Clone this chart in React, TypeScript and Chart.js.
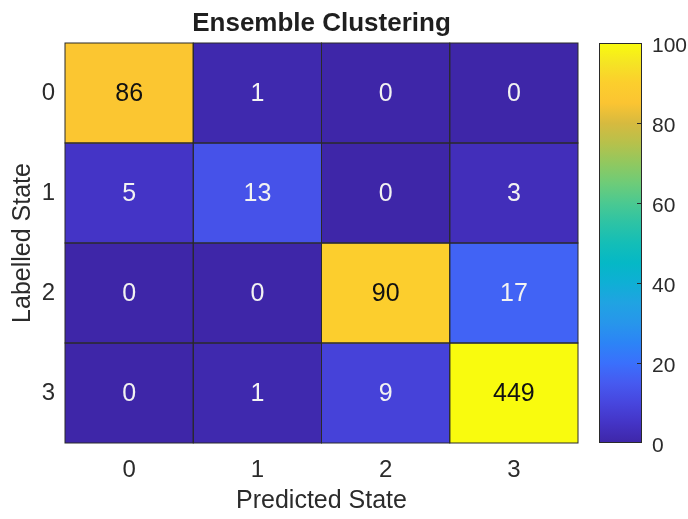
import React, { useEffect, useRef } from "react";
import { Chart, registerables } from "chart.js";

Chart.register(...registerables);

// ---- data ----
const predictedStates = ["0", "1", "2", "3"];
const labelledStates = ["0", "1", "2", "3"];
const countsState0 = [86, 1, 0, 0];
const countsState1 = [5, 13, 0, 3];
const countsState2 = [0, 0, 90, 17];
const countsState3 = [0, 1, 9, 449];
const colorLimits = [0, 100];
const colorbarTicks = [0, 20, 40, 60, 80, 100];

const confusionRows = [countsState0, countsState1, countsState2, countsState3];

// ---- parula-like colormap ----
const parulaStops: [number, number, number][] = [
  [62, 38, 168],
  [68, 52, 198],
  [71, 70, 222],
  [70, 90, 240],
  [58, 112, 252],
  [44, 132, 246],
  [39, 150, 235],
  [32, 163, 226],
  [15, 175, 213],
  [5, 184, 198],
  [20, 190, 183],
  [45, 195, 165],
  [75, 201, 145],
  [110, 204, 120],
  [145, 200, 95],
  [183, 193, 75],
  [215, 186, 63],
  [251, 196, 50],
  [252, 206, 45],
  [245, 228, 36],
  [249, 251, 14],
];

function parulaRGB(value: number): [number, number, number] {
  const [lo, hi] = colorLimits;
  const t = Math.min(1, Math.max(0, (value - lo) / (hi - lo)));
  const p = t * (parulaStops.length - 1);
  const i = Math.min(parulaStops.length - 2, Math.floor(p));
  const f = p - i;
  const a = parulaStops[i];
  const b = parulaStops[i + 1];
  return [0, 1, 2].map((k) => Math.round(a[k] + (b[k] - a[k]) * f)) as [number, number, number];
}

function parula(value: number): string {
  const [r, g, b] = parulaRGB(value);
  return `rgb(${r},${g},${b})`;
}

function cellTextColor(value: number): string {
  const [r, g, b] = parulaRGB(value);
  const lum = 0.299 * r + 0.587 * g + 0.114 * b;
  return lum > 140 ? "#111111" : "#f2f2f2";
}

const FONT = "'Liberation Sans', Arial, Helvetica, sans-serif";
const TEXT = "#2b2b2b";

Chart.defaults.font.family = FONT;
Chart.defaults.color = TEXT;

// Cell outlines, value labels and centred title for the heatmap
const heatmapDecor = {
  id: "heatmapDecor",
  afterDatasetsDraw(chart: any) {
    const ctx = chart.ctx;
    ctx.save();
    ctx.strokeStyle = "#2a2a2a";
    ctx.lineWidth = 1;
    chart.data.datasets.forEach((ds: any, i: number) => {
      const meta = chart.getDatasetMeta(i);
      meta.data.forEach((bar: any) => {
        const left = bar.x - bar.width / 2;
        const top = Math.min(bar.y, bar.base);
        const h = Math.abs(bar.base - bar.y);
        ctx.strokeRect(left, top, bar.width, h);
      });
    });
    ctx.font = `25px ${FONT}`;
    ctx.textAlign = "center";
    ctx.textBaseline = "middle";
    chart.data.datasets.forEach((ds: any, i: number) => {
      const meta = chart.getDatasetMeta(i);
      meta.data.forEach((bar: any, j: number) => {
        const v = ds.counts[j];
        const c = bar.getCenterPoint();
        ctx.fillStyle = cellTextColor(v);
        ctx.fillText(String(v), c.x, c.y + 1);
      });
    });
    const area = chart.chartArea;
    ctx.font = `bold 26px ${FONT}`;
    ctx.fillStyle = "#1f1f1f";
    ctx.textBaseline = "alphabetic";
    ctx.fillText("Ensemble Clustering", (area.left + area.right) / 2, 31);
    ctx.restore();
  },
};

// Gradient strip, frame and inner tick marks for the colour bar
const colorbarDecor = {
  id: "colorbarDecor",
  beforeDatasetsDraw(chart: any) {
    const ctx = chart.ctx;
    const area = chart.chartArea;
    const y = chart.scales.y;
    const [lo, hi] = colorLimits;
    const y0 = y.getPixelForValue(lo);
    const y1 = y.getPixelForValue(hi);
    const grad = ctx.createLinearGradient(0, y0, 0, y1);
    parulaStops.forEach((_, k) => {
      const t = k / (parulaStops.length - 1);
      grad.addColorStop(t, parula(lo + t * (hi - lo)));
    });
    ctx.save();
    ctx.fillStyle = grad;
    ctx.fillRect(area.left, area.top, area.right - area.left, area.bottom - area.top);
    ctx.strokeStyle = "#2a2a2a";
    ctx.lineWidth = 1;
    ctx.strokeRect(area.left + 0.5, area.top + 0.5, area.right - area.left - 1, area.bottom - area.top - 1);
    colorbarTicks.forEach((v) => {
      if (v === lo || v === hi) return;
      const py = Math.round(y.getPixelForValue(v)) + 0.5;
      ctx.beginPath();
      ctx.moveTo(area.right - 0.5, py);
      ctx.lineTo(area.right - 5, py);
      ctx.stroke();
    });
    ctx.restore();
  },
};

export default function App() {
  const heatRef = useRef<HTMLCanvasElement>(null);
  const barRef = useRef<HTMLCanvasElement>(null);

  useEffect(() => {
    const heat = new Chart(heatRef.current!, {
      type: "bar",
      data: {
        labels: predictedStates,
        datasets: confusionRows.map((row, r) => ({
          label: labelledStates[r],
          data: row.map(() => 1),
          counts: row,
          backgroundColor: row.map((v) => parula(v)),
          borderWidth: 0,
          barPercentage: 1,
          categoryPercentage: 1,
        })) as any,
      },
      options: {
        responsive: true,
        maintainAspectRatio: false,
        animation: false,
        layout: { padding: { top: 43, right: 110, bottom: 0, left: 0 } },
        plugins: {
          legend: { display: false },
          tooltip: { enabled: false },
          title: { display: false },
        },
        scales: {
          x: {
            type: "category",
            stacked: true,
            grid: { display: false, drawTicks: false, tickLength: 0 },
            border: { display: false },
            ticks: { font: { size: 24 }, color: TEXT, padding: 13, maxRotation: 0 },
            title: {
              display: true,
              text: "Predicted State",
              font: { size: 25 },
              color: TEXT,
              padding: { top: 0, bottom: 3 },
            },
            afterFit: (s: any) => {
              s.height = 76;
            },
          },
          y: {
            type: "linear",
            stacked: true,
            reverse: true,
            min: 0,
            max: labelledStates.length,
            grid: { display: false, drawTicks: false, tickLength: 0 },
            border: { display: false },
            afterBuildTicks: (s: any) => {
              s.ticks = labelledStates.map((_, i) => ({ value: i + 0.5 }));
            },
            ticks: {
              font: { size: 24 },
              color: TEXT,
              padding: 10,
              callback: (v: any) => labelledStates[Math.floor(Number(v))],
            },
            title: {
              display: true,
              text: "Labelled State",
              font: { size: 25 },
              color: TEXT,
              padding: { top: 8, bottom: 0 },
            },
            afterFit: (s: any) => {
              s.width = 65;
            },
          },
        },
      },
      plugins: [heatmapDecor],
    });

    const bar = new Chart(barRef.current!, {
      type: "bar",
      data: { labels: [""], datasets: [] },
      options: {
        responsive: true,
        maintainAspectRatio: false,
        animation: false,
        layout: { padding: { top: 43, right: 0, bottom: 76, left: 39 } },
        plugins: { legend: { display: false }, tooltip: { enabled: false } },
        scales: {
          x: { display: false },
          y: {
            type: "linear",
            position: "right",
            min: colorLimits[0],
            max: colorLimits[1],
            grid: { display: false, drawTicks: false, tickLength: 0 },
            border: { display: false },
            afterBuildTicks: (s: any) => {
              s.ticks = colorbarTicks.map((v) => ({ value: v }));
            },
            ticks: { font: { size: 21 }, color: TEXT, padding: 10, labelOffset: 3 },
            afterFit: (s: any) => {
              s.width = 46;
            },
          },
        },
      },
      plugins: [colorbarDecor],
    });

    return () => {
      heat.destroy();
      bar.destroy();
    };
  }, []);

  return (
    <div style={{ position: "absolute", left: 0, top: 0, width: 688, height: 519, background: "#ffffff" }}>
      <div style={{ position: "absolute", left: 0, top: 0, width: 688, height: 519 }}>
        <canvas ref={heatRef} />
      </div>
      <div style={{ position: "absolute", left: 560, top: 0, width: 128, height: 519 }}>
        <canvas ref={barRef} />
      </div>
    </div>
  );
}
